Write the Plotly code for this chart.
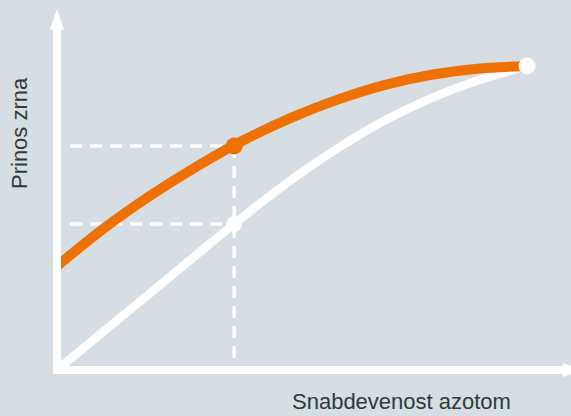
import plotly.graph_objects as go

# ---- data (axis units 0..10) ----
curve_x = [0, 1, 2, 3, 4, 5, 6, 7, 8, 9, 10]
orange_y = [3.42, 4.66, 5.75, 6.72, 7.58, 8.31, 8.91, 9.39, 9.72, 9.92, 10.0]
white_y = [0.0, 1.28, 2.55, 3.83, 5.09, 6.27, 7.32, 8.23, 8.97, 9.55, 10.0]

point_x = [3.77]
orange_point_y = [7.37]
white_point_y = [4.80]
end_x = [10.0]
end_y = [10.0]

dash_start_x = 0.28

x_label = "Snabdevenost azotom"
y_label = "Prinos zrna"

# ---- style ----
BG = "#d6dde3"
ORANGE = "#ee7203"
WHITE = "#ffffff"
TEXT = "#2e3a3b"
FONT = "Liberation Sans, Arial, Helvetica, sans-serif"

x_range = [-1.2128, 10.936]
y_range = [-1.5132, 12.171]
x_axis_end = 10.9
x_arrow_tip = 11.21
y_axis_end = 11.2
y_arrow_tip = 11.88

fig = go.Figure()

# dashed guide lines
for py in (orange_point_y[0], white_point_y[0]):
    fig.add_trace(go.Scatter(
        x=[dash_start_x, point_x[0]], y=[py, py], mode="lines",
        line=dict(color=WHITE, width=3.5, dash="12px,8px"), hoverinfo="skip"))
fig.add_trace(go.Scatter(
    x=[point_x[0], point_x[0]], y=[orange_point_y[0], 0], mode="lines",
    line=dict(color=WHITE, width=3.5, dash="12px,8px"), hoverinfo="skip"))

# curves
fig.add_trace(go.Scatter(x=curve_x, y=white_y, mode="lines",
                         line=dict(color=WHITE, width=8.5, shape="spline", smoothing=0.8)))
fig.add_trace(go.Scatter(x=curve_x, y=orange_y, mode="lines",
                         line=dict(color=ORANGE, width=10, shape="spline", smoothing=0.8)))

# points
fig.add_trace(go.Scatter(x=point_x, y=white_point_y, mode="markers",
                         marker=dict(color=WHITE, size=16, line=dict(width=0))))
fig.add_trace(go.Scatter(x=point_x, y=orange_point_y, mode="markers",
                         marker=dict(color=ORANGE, size=17, line=dict(width=0))))
fig.add_trace(go.Scatter(x=end_x, y=end_y, mode="markers",
                         marker=dict(color=WHITE, size=17, line=dict(width=0))))

# axes (lines + arrowheads)
shapes = [
    dict(type="line", xref="x", yref="y", x0=0, x1=0, y0=-0.13, y1=y_axis_end,
         line=dict(color=WHITE, width=8), layer="above"),
    dict(type="line", xref="x", yref="y", x0=-0.085, x1=x_axis_end, y0=0, y1=0,
         line=dict(color=WHITE, width=8), layer="above"),
    dict(type="path", xref="x", yref="y", xsizemode="pixel", ysizemode="pixel",
         xanchor=0, yanchor=y_arrow_tip, path="M0,0 L-7,-21 L7,-21 Z",
         fillcolor=WHITE, line=dict(width=0), layer="above"),
    dict(type="path", xref="x", yref="y", xsizemode="pixel", ysizemode="pixel",
         xanchor=x_arrow_tip, yanchor=0, path="M0,0 L-21,7 L-21,-7 Z",
         fillcolor=WHITE, line=dict(width=0), layer="above"),
]

annotations = [
    dict(text=y_label, xref="paper", yref="paper", x=19 / 571, y=1 - 133 / 416,
         xanchor="center", yanchor="middle", textangle=-90, showarrow=False,
         font=dict(family=FONT, size=22, color=TEXT)),
    dict(text=x_label, xref="paper", yref="paper", x=401 / 571, y=0,
         xanchor="center", yanchor="bottom", showarrow=False,
         font=dict(family=FONT, size=22, color=TEXT)),
]

fig.update_layout(
    width=571, height=416,
    margin=dict(l=0, r=0, t=0, b=0, pad=0),
    paper_bgcolor=BG, plot_bgcolor=BG,
    showlegend=False,
    xaxis=dict(range=x_range, visible=False, fixedrange=True),
    yaxis=dict(range=y_range, visible=False, fixedrange=True),
    shapes=shapes, annotations=annotations,
)

fig.write_html("out.html", config={"displayModeBar": False},
               post_script="document.body.style.margin='0';")
